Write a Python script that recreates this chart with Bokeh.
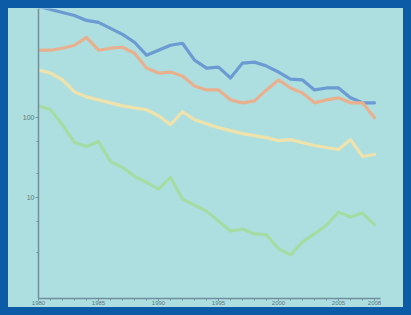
from bokeh.plotting import figure
from bokeh.models import Range1d, FixedTicker, NumeralTickFormatter
from bokeh.embed import file_html
from bokeh.resources import INLINE

years = list(range(1980, 2009))

blue = [2512, 2304, 2113, 1939, 1679, 1585, 1334, 1122, 891, 613, 708, 818, 866,
        531, 422, 434, 316, 487, 501, 447, 376, 307, 299, 224, 237, 237, 178, 154, 154]
orange = [708, 708, 750, 818, 1029, 708, 750, 772, 649, 422, 365, 376, 335,
          251, 224, 224, 168, 154, 163, 224, 299, 237, 205, 154, 168, 178, 154, 154, 100]
yellow = [398, 365, 299, 211, 183, 168, 154, 141, 133, 126, 106, 81.8, 119,
          94.4, 84.1, 75.0, 68.8, 63.1, 59.6, 56.2, 51.6, 53.1, 48.7, 44.7, 42.2, 39.8, 53.1, 32.5, 34.5]
green = [141, 126, 81.8, 48.7, 43.4, 50.1, 28.2, 23.7, 18.3, 15.4, 12.6, 17.8, 9.44,
         7.94, 6.68, 5.01, 3.76, 3.98, 3.45, 3.35, 2.24, 1.88, 2.74, 3.45, 4.47, 6.49, 5.62, 6.31, 4.47]

x_ticks = [1980, 1985, 1990, 1995, 2000, 2005, 2008]
y_ticks = [10, 100]
y_minor = [2, 5, 20, 50]

series = [(blue, "#6b9bd2"), (orange, "#e8b08e"), (yellow, "#efe2ab"), (green, "#a4dca4")]

bg = "#aedfe0"
p = figure(width=395, height=299, output_backend="svg", toolbar_location=None,
           y_axis_type="log",
           x_range=Range1d(1980, 2008.5), y_range=Range1d(0.531, 2371),
           min_border_left=30, min_border_right=23, min_border_top=0, min_border_bottom=7)
p.background_fill_color = None
p.border_fill_color = None
p.outline_line_color = None
p.grid.grid_line_color = None
p.styles = {"margin": "8px", "box-shadow": "0 0 0 8px #0b5ba7", "background-color": bg}

for vals, col in series:
    p.line(years, vals, line_color=col, line_width=3.2, line_join="round", line_cap="round")

p.xaxis.ticker = FixedTicker(ticks=x_ticks, minor_ticks=years)
p.yaxis.ticker = FixedTicker(ticks=y_ticks, minor_ticks=y_minor)
p.yaxis.formatter = NumeralTickFormatter(format="0")
for ax in (p.xaxis[0], p.yaxis[0]):
    ax.axis_line_color = "#6f8f9c"
    ax.axis_line_width = 1.5
    ax.major_tick_line_color = "#6f8f9c"
    ax.minor_tick_line_color = "#6f8f9c"
    ax.major_tick_out = 3
    ax.major_tick_in = 0
    ax.minor_tick_out = 2
    ax.minor_tick_in = 0
    ax.major_label_text_font_size = "6px"
    ax.major_label_text_color = "#5a7580"
    ax.major_label_standoff = 1
p.xaxis.major_tick_out = 2
p.xaxis.major_label_standoff = 0
p.yaxis.major_label_text_font_size = "7px"

open("out.html", "w").write(file_html(p, INLINE))
